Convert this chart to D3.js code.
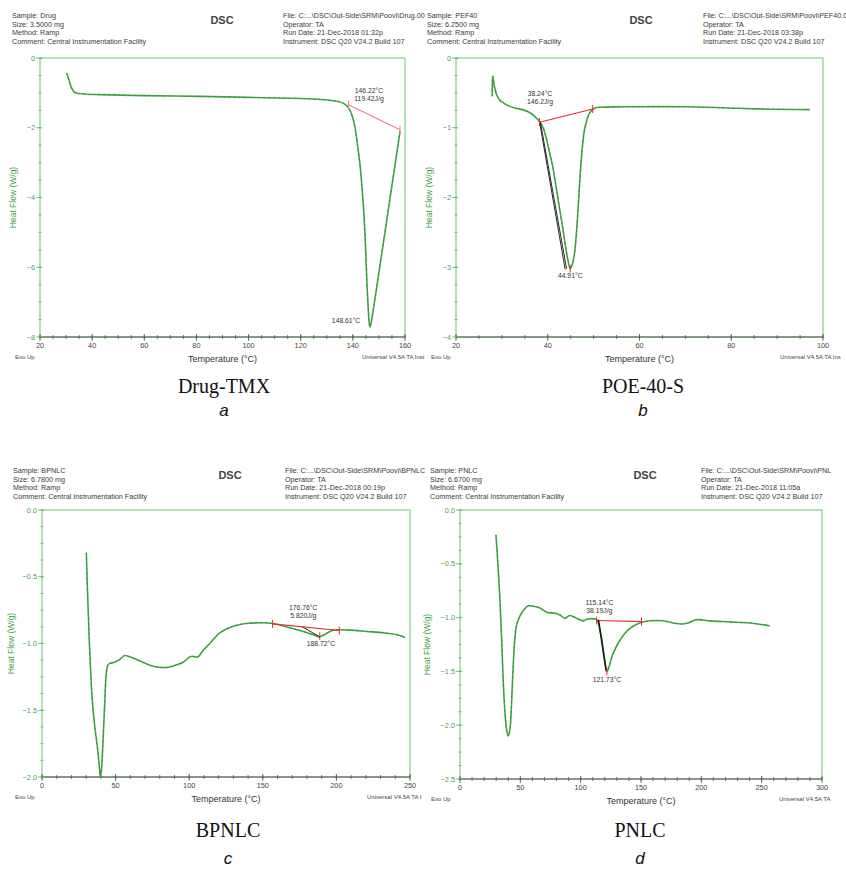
<!DOCTYPE html>
<html>
<head>
<meta charset="utf-8">
<script src="https://cdn.jsdelivr.net/npm/d3@7"></script>
<style>
  body { margin: 0; background: #fff; }
  text { font-family: Arial, "Liberation Sans", sans-serif; }
</style>
</head>
<body>
<svg id="chart" width="846" height="870"></svg>
<script>
'use strict';

// ---- data: [temperature °C, heat flow W/g] ----
var drugCurve = [[30.2,-0.43],[30.8,-0.55],[31.6,-0.75],[32.4,-0.9],[33.4,-0.99],[35,-1.02],[38,-1.04],[43,-1.05],[60,-1.08],[81,-1.1],[100,-1.13],[120,-1.16],
  [128,-1.19],[132,-1.22],[134.5,-1.25],[136.4,-1.3],[137.8,-1.38],[138.9,-1.5],[139.9,-1.7],[140.8,-1.98],[141.8,-2.5],[142.8,-3.1],[143.6,-3.8],
  [144.3,-4.55],[144.9,-5.5],[145.4,-6.45],[145.9,-7.2],[146.3,-7.62],[146.6,-7.71],[147.1,-7.55],[150,-6.15],[153,-4.65],[156,-3.15],[158.1,-2.1]];
var drugBaseline = [[138.3,-1.34],[158.1,-2.06]];
var drugMarks = [[138.3,-1.34],[158.1,-2.06]];

var pefCurve = [[27.9,-0.55],[28,-0.26],[28.4,-0.42],[28.9,-0.53],[29.5,-0.6],[30.5,-0.65],[31.6,-0.69],[33,-0.72],[34.5,-0.74],[35.7,-0.77],[36.7,-0.81],
  [37.5,-0.86],[38.2,-0.91],[39,-1.0],[39.6,-1.13],[40.3,-1.33],[41.1,-1.56],[41.8,-1.84],[42.5,-2.13],[43.3,-2.45],[44,-2.75],[44.5,-2.93],[44.9,-3.02],
  [45.3,-2.97],[45.8,-2.82],[46.2,-2.55],[46.5,-2.28],[46.9,-1.85],[47.3,-1.46],[47.7,-1.18],[48,-1.03],[48.5,-0.9],[49.1,-0.79],[50.2,-0.72],
  [52,-0.705],[56.4,-0.7],[70.9,-0.7],[85.5,-0.73],[97.1,-0.74]];
var pefBaseline = [[38.2,-0.92],[49.8,-0.73]];
var pefTangents = [[[38.2,-0.91],[43.8,-3.03]], [[38.4,-0.92],[44.1,-3.02]]];
var pefMarks = [[38.2,-0.92],[49.8,-0.73],[44.9,-3.02]];

var bpnlcCurve = [[30.1,-0.32],[31.2,-0.7],[32.4,-1.05],[34,-1.4],[35.8,-1.62],[37,-1.72],[38.1,-1.82],[39,-1.93],[39.7,-2.0],[40.5,-1.93],[41.5,-1.72],
  [42.6,-1.45],[43.7,-1.22],[44.8,-1.16],[46,-1.15],[49.4,-1.14],[52.8,-1.12],[56.2,-1.09],[59.6,-1.1],[66.4,-1.13],[75.5,-1.17],[84.5,-1.18],
  [91.3,-1.16],[95.9,-1.14],[100.4,-1.1],[102,-1.095],[103.8,-1.1],[106,-1.1],[109.5,-1.05],[114,-1.0],[120.8,-0.92],[129.9,-0.87],[139,-0.85],
  [148,-0.845],[157,-0.85],[170.8,-0.89],[177.6,-0.91],[184.4,-0.935],[188.5,-0.95],[192.4,-0.93],[198,-0.9],[209.4,-0.9],[220.7,-0.91],
  [232,-0.92],[243,-0.94],[246.6,-0.955]];
var bpnlcBaseline = [[156.6,-0.853],[202,-0.903]];
var bpnlcTangents = [[[176.8,-0.875],[188.7,-0.95]]];
var bpnlcMarks = [[156.6,-0.853],[202,-0.903],[188.7,-0.945]];

var pnlcCurve = [[29.8,-0.23],[31.4,-0.5],[33.1,-0.84],[34.5,-1.2],[35.9,-1.61],[37.2,-1.87],[38.6,-2.04],[40,-2.1],[40.9,-2.07],[41.9,-1.98],
  [43,-1.72],[44.1,-1.45],[45.4,-1.2],[46.9,-1.07],[49,-1.0],[51,-0.96],[53.5,-0.92],[56.6,-0.89],[60.7,-0.895],[66.2,-0.91],[69,-0.93],
  [71.8,-0.95],[78.7,-0.96],[82.8,-0.975],[86.9,-1.006],[91.1,-0.98],[96.6,-1.006],[102.1,-1.03],[105,-1.015],[107.6,-1.01],[113.2,-1.02],
  [115.9,-1.11],[117.5,-1.2],[118.7,-1.3],[120,-1.4],[120.9,-1.46],[122,-1.5],[123.7,-1.45],[125.5,-1.38],[127,-1.33],[132.5,-1.21],
  [140.8,-1.1],[149,-1.05],[157.3,-1.03],[168.4,-1.03],[176.6,-1.05],[183.5,-1.06],[189,-1.05],[196,-1.02],[207,-1.03],[223.6,-1.04],
  [240,-1.05],[256.7,-1.077]];
var pnlcBaseline = [[113.2,-1.027],[150.4,-1.037]];
var pnlcTangents = [[[114.5,-1.02],[120.9,-1.5]], [[115,-1.02],[121.3,-1.49]]];
var pnlcMarks = [[113.2,-1.027],[150.4,-1.037],[121.7,-1.5]];

// axis tick values
var drugXTicks = [20, 40, 60, 80, 100, 120, 140, 160];
var drugYTicks = [0, -2, -4, -6, -8];
var pefXTicks = [20, 40, 60, 80, 100];
var pefYTicks = [0, -1, -2, -3, -4];
var bpnlcXTicks = [0, 50, 100, 150, 200, 250];
var bpnlcYTicks = [0, -0.5, -1, -1.5, -2];
var pnlcXTicks = [0, 50, 100, 150, 200, 250, 300];
var pnlcYTicks = [0, -0.5, -1, -1.5, -2, -2.5];

// header texts (as far as they are visible before the page crop)
var sampleNames = ['Drug', 'PEF40', 'BPNLC', 'PNLC'];
var sampleSizes = ['3.5000 mg', '6.2500 mg', '6.7800 mg', '6.6700 mg'];
var fileNames = ['Drug.00', 'PEF40.0', 'BPNLC', 'PNL'];
var runDates = ['21-Dec-2018 01:32p', '21-Dec-2018 03:38p', '21-Dec-2018 00:19p', '21-Dec-2018 11:05a'];
var footers = ['Universal V4.5A TA Inst', 'Universal V4.5A TA Ins', 'Universal V4.5A TA I', 'Universal V4.5A TA'];
var captions = ['Drug-TMX', 'POE-40-S', 'BPNLC', 'PNLC'];
var letters = ['a', 'b', 'c', 'd'];

// peak labels: [anchor T, anchor HF, lines]
var drugLabels = [[146.2, -1.0, ['146.22°C', '119.42J/g']], [137.4, -7.6, ['148.61°C']]];
var pefLabels = [[38.3, -0.55, ['38.24°C', '146.2J/g']], [44.9, -3.15, ['44.91°C']]];
var bpnlcLabels = [[177.5, -0.75, ['176.76°C', '5.820J/g']], [189.5, -1.02, ['188.72°C']]];
var pnlcLabels = [[115.5, -0.88, ['115.14°C', '38.19J/g']], [121.7, -1.6, ['121.73°C']]];

var GREEN = '#3fa447';
var CURVE = '#45a845';

var svg = d3.select('#chart');

var panels = [
  {id: 0, left: 40, right: 405, top: 58, bottom: 337, ox: 0, oy: 0, ylx: 16,
    xd: [20, 160], xt: drugXTicks, xm: 5, yd: [-8, 0], yt: drugYTicks, ym: 0.5, yfmt: d3.format('d'),
    curve: drugCurve, base: drugBaseline, baseColor: '#f07a98', tangents: [], marks: drugMarks, labels: drugLabels,
    dsc: 222, leftX: 12, rightX: 283, footX: 362, capX: 224, capY: 393, letY: 416},
  {id: 1, left: 456, right: 823, top: 58, bottom: 337, ox: 423, oy: 0, ylx: 432,
    xd: [20, 100], xt: pefXTicks, xm: 5, yd: [-4, 0], yt: pefYTicks, ym: 0.25, yfmt: d3.format('d'),
    curve: pefCurve, base: pefBaseline, baseColor: '#f02a2a', tangents: pefTangents, marks: pefMarks, labels: pefLabels,
    dsc: 641, leftX: 427, rightX: 703, footX: 780, capX: 643, capY: 393, letY: 416},
  {id: 2, left: 42, right: 410, top: 510, bottom: 777, ox: 0, oy: 455, ylx: 14,
    xd: [0, 250], xt: bpnlcXTicks, xm: 10, yd: [-2, 0], yt: bpnlcYTicks, ym: 0.125, yfmt: d3.format('.1f'),
    curve: bpnlcCurve, base: bpnlcBaseline, baseColor: '#f02a2a', tangents: bpnlcTangents, marks: bpnlcMarks, labels: bpnlcLabels,
    dsc: 230, leftX: 13, rightX: 285, footX: 367, capX: 228, capY: 837, letY: 864},
  {id: 3, left: 460, right: 822, top: 510, bottom: 779, ox: 423, oy: 455, ylx: 430,
    xd: [0, 300], xt: pnlcXTicks, xm: 10, yd: [-2.5, 0], yt: pnlcYTicks, ym: 0.125, yfmt: d3.format('.1f'),
    curve: pnlcCurve, base: pnlcBaseline, baseColor: '#f02a2a', tangents: pnlcTangents, marks: pnlcMarks, labels: pnlcLabels,
    dsc: 645, leftX: 430, rightX: 701, footX: 779, capX: 640, capY: 837, letY: 864}
];

panels.forEach(function(p) { drawPanel(p); });

function drawPanel(p) {
  var i = p.id;
  var g = svg.append('g');

  var x = d3.scaleLinear().domain(p.xd).range([p.left, p.right]);
  var y = d3.scaleLinear().domain(p.yd).range([p.bottom, p.top]);

  // header block
  var hy = p.oy + 18;
  var leftLines = ['Sample: ' + sampleNames[i], 'Size:  ' + sampleSizes[i], 'Method: Ramp', 'Comment: Central Instrumentation Facility'];
  var rightLines = ['File: C:...\\DSC\\Out-Side\\SRM\\Poovi\\' + fileNames[i], 'Operator: TA', 'Run Date: ' + runDates[i], 'Instrument: DSC Q20 V24.2 Build 107'];
  g.selectAll('.hl').data(leftLines).enter().append('text')
    .attr('x', p.leftX).attr('y', (d, k) => hy + k * 8.6)
    .attr('font-size', '7.2px').attr('fill', '#3a3a3a').text(d => d);
  g.selectAll('.hr').data(rightLines).enter().append('text')
    .attr('x', p.rightX).attr('y', (d, k) => hy + k * 8.6)
    .attr('font-size', '7.2px').attr('fill', '#3a3a3a').text(d => d);
  g.append('text').attr('x', p.dsc).attr('y', hy + 6).attr('text-anchor', 'middle')
    .attr('font-size', '11px').attr('font-weight', 'bold').attr('fill', '#444').text('DSC');

  // frame (green), bottom axis dark
  g.append('rect').attr('x', p.left).attr('y', p.top).attr('width', p.right - p.left).attr('height', p.bottom - p.top)
    .attr('fill', 'none').attr('stroke', '#6cc46c').attr('stroke-width', 1);
  g.append('line').attr('x1', p.left).attr('x2', p.right).attr('y1', p.bottom).attr('y2', p.bottom)
    .attr('stroke', '#555').attr('stroke-width', 1);

  // x axis: majors with labels, minors as small crossing ticks
  var xMinor = d3.range(p.xd[0], p.xd[1] + 0.001, p.xm);
  g.selectAll('.xmin').data(xMinor).enter().append('line')
    .attr('x1', d => x(d)).attr('x2', d => x(d)).attr('y1', p.bottom - 2).attr('y2', p.bottom + 2)
    .attr('stroke', '#555').attr('stroke-width', 0.8);
  g.selectAll('.xmaj').data(p.xt).enter().append('line')
    .attr('x1', d => x(d)).attr('x2', d => x(d)).attr('y1', p.bottom - 3).attr('y2', p.bottom + 4)
    .attr('stroke', '#555').attr('stroke-width', 0.8);
  g.selectAll('.xlab').data(p.xt).enter().append('text')
    .attr('x', d => x(d)).attr('y', p.bottom + 11).attr('text-anchor', 'middle')
    .attr('font-size', '7.3px').attr('fill', '#444').text(d => d);

  // y axis
  var yMinor = d3.range(p.yd[0], p.yd[1] + 0.0001, p.ym);
  g.selectAll('.ymin').data(yMinor).enter().append('line')
    .attr('x1', p.left - 1.5).attr('x2', p.left + 1.5).attr('y1', d => y(d)).attr('y2', d => y(d))
    .attr('stroke', '#5ab45a').attr('stroke-width', 0.8);
  g.selectAll('.ymaj').data(p.yt).enter().append('line')
    .attr('x1', p.left - 4).attr('x2', p.left + 2).attr('y1', d => y(d)).attr('y2', d => y(d))
    .attr('stroke', '#5ab45a').attr('stroke-width', 0.8);
  g.selectAll('.ylab').data(p.yt).enter().append('text')
    .attr('x', p.left - 5).attr('y', d => y(d) + 2.5).attr('text-anchor', 'end')
    .attr('font-size', '7.3px').attr('fill', GREEN).text(d => p.yfmt(d));

  var midY = (p.top + p.bottom) / 2;
  g.append('text').attr('transform', 'translate(' + p.ylx + ',' + midY + ')rotate(-90)')
    .attr('text-anchor', 'middle').attr('font-size', '8.5px').attr('fill', GREEN).text('Heat Flow (W/g)');
  g.append('text').attr('x', (p.left + p.right) / 2).attr('y', p.bottom + 25).attr('text-anchor', 'middle')
    .attr('font-size', '9px').attr('fill', '#333').text('Temperature (°C)');
  g.append('text').attr('x', p.ox + (i % 2 ? 8 : 15)).attr('y', p.bottom + 22)
    .attr('font-size', '6px').attr('fill', '#444').text('Exo Up');
  g.append('text').attr('x', p.footX).attr('y', p.bottom + 22)
    .attr('font-size', '6px').attr('fill', '#444').text(footers[i]);

  // curve: green trace with the fine dark dash of the instrument plot
  var line = d3.line().x(d => x(d[0])).y(d => y(d[1])).curve(d3.curveCatmullRom.alpha(0.5));
  g.append('path').datum(p.curve).attr('fill', 'none').attr('stroke', CURVE)
    .attr('stroke-width', 1.6).attr('d', line);
  g.append('path').datum(p.curve).attr('fill', 'none').attr('stroke', '#2c6a2c')
    .attr('stroke-width', 0.5).attr('stroke-dasharray', '2,3').attr('d', line);

  // baseline, tangents, marks
  var straight = d3.line().x(d => x(d[0])).y(d => y(d[1]));
  g.append('path').datum(p.base).attr('fill', 'none').attr('stroke', p.baseColor)
    .attr('stroke-width', 1.1).attr('d', straight);
  p.tangents.forEach(function(t) {
    g.append('path').datum(t).attr('fill', 'none').attr('stroke', '#111')
      .attr('stroke-width', 0.9).attr('d', straight);
  });
  g.selectAll('.mk').data(p.marks).enter().append('line')
    .attr('x1', d => x(d[0])).attr('x2', d => x(d[0])).attr('y1', d => y(d[1]) - 4).attr('y2', d => y(d[1]) + 4)
    .attr('stroke', p.baseColor).attr('stroke-width', 1);

  // peak labels
  p.labels.forEach(function(l) {
    var t = g.append('text').attr('x', x(l[0])).attr('y', y(l[1])).attr('text-anchor', 'middle')
      .attr('font-size', '6.8px').attr('fill', '#333');
    l[2].forEach(function(s, k) {
      t.append('tspan').attr('x', x(l[0])).attr('dy', k ? 8 : 0).text(s);
    });
  });

  // captions
  svg.append('text').attr('x', p.capX).attr('y', p.capY).attr('text-anchor', 'middle')
    .style('font-family', '"Liberation Serif", "Times New Roman", serif').attr('font-size', '20px').attr('fill', '#111')
    .text(captions[i]);
  svg.append('text').attr('x', p.capX).attr('y', p.letY).attr('text-anchor', 'middle')
    .attr('font-size', '17px').attr('font-style', 'italic').attr('fill', '#111').text(letters[i]);
}
</script>
</body>
</html>
